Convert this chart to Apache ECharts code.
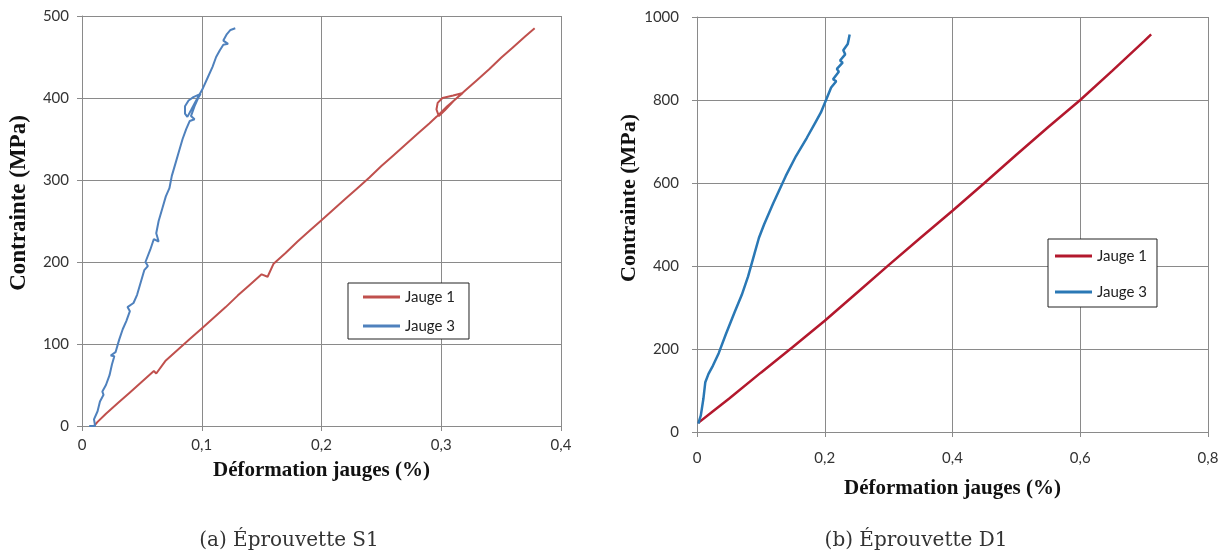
<!DOCTYPE html>
<html>
<head>
<meta charset="utf-8">
<script src="https://cdn.jsdelivr.net/npm/echarts@6/dist/echarts.min.js"></script>
<style>
html,body{margin:0;padding:0;background:#fff;}
#c{width:1230px;height:556px;}
</style>
</head>
<body>
<div id="c"></div>
<script>
// ---------- Data ----------
const seriesNames = ['Jauge 1', 'Jauge 3'];
const xAxisTitle = 'Déformation jauges (%)';
const yAxisTitle = 'Contrainte (MPa)';
const captions = ['(a) Éprouvette S1', '(b) Éprouvette D1'];

// Éprouvette S1
const s1Ticks = { xMax: 0.4, xStep: 0.1, yMax: 500, yStep: 100 };
const s1Jauge1X = [0.010,0.013,0.020,0.030,0.040,0.050,0.060,0.062,0.070,0.080,0.090,0.100,0.110,0.120,0.130,0.140,0.150,0.155,0.160,0.170,0.180,0.190,0.200,0.210,0.220,0.230,0.240,0.250,0.260,0.270,0.280,0.290,0.296,0.305,0.318,0.310,0.301,0.297,0.296,0.298,0.303,0.310,0.320,0.330,0.340,0.350,0.360,0.370,0.378];
const s1Jauge1Y = [0,5,15,28,41,54,67,64,80,93,106,119,132,145,159,172,185,182,198,211,225,238,251,264,277,290,303,317,330,343,356,369,377,390,406,403,400,394,386,378,385,396,409,422,435,449,462,475,485];
const s1Jauge3X = [0.006,0.011,0.010,0.013,0.015,0.018,0.017,0.020,0.023,0.025,0.027,0.024,0.028,0.031,0.034,0.037,0.040,0.038,0.043,0.046,0.049,0.052,0.055,0.053,0.057,0.060,0.064,0.062,0.064,0.067,0.070,0.073,0.075,0.078,0.081,0.084,0.087,0.090,0.094,0.091,0.094,0.097,0.099,0.093,0.089,0.086,0.086,0.088,0.091,0.095,0.098,0.101,0.105,0.109,0.112,0.115,0.118,0.122,0.118,0.121,0.124,0.128];
const s1Jauge3Y = [0,0,8,18,30,38,42,50,62,75,85,86,90,105,118,128,140,145,150,160,175,190,195,200,215,228,225,235,250,265,280,290,305,320,335,350,362,372,374,378,390,400,405,401,397,390,381,377,385,396,404,412,425,438,450,458,465,466,470,478,483,485];

// Éprouvette D1
const d1Ticks = { xMax: 0.8, xStep: 0.2, yMax: 1000, yStep: 200 };
const d1Jauge1X = [0.002,0.025,0.050,0.100,0.150,0.200,0.250,0.300,0.350,0.400,0.450,0.500,0.550,0.600,0.650,0.700,0.711];
const d1Jauge1Y = [22,50,80,143,205,268,335,402,468,533,600,668,735,800,870,942,958];
const d1Jauge3X = [0.002,0.006,0.010,0.013,0.018,0.025,0.034,0.045,0.059,0.070,0.080,0.090,0.097,0.105,0.119,0.139,0.155,0.172,0.185,0.194,0.202,0.210,0.218,0.213,0.222,0.219,0.228,0.224,0.232,0.229,0.236,0.239];
const d1Jauge3Y = [20,40,80,120,140,160,190,235,289,330,375,430,468,500,550,617,665,709,745,770,800,830,845,850,868,875,890,895,910,920,935,958];

const colorsS1 = ['#c0504d', '#4f81bd'];
const colorsD1 = ['#b3182d', '#2a78b5'];

// ---------- Chart ----------
const zip = (xs, ys) => xs.map((x, i) => [x, ys[i]]);
const fmtX = v => (v === 0 ? '0' : String(+v.toFixed(1)).replace('.', ','));
const fmtY = v => String(v);
const tickFont = { fontFamily: 'Lato, "Open Sans", sans-serif', fontSize: 15, color: '#333' };
const serifBold = '"Liberation Serif", "Times New Roman", serif';
const xTitleFont = { fontFamily: serifBold, fontWeight: 'bold', fontSize: 21, color: '#111' };
const gridLine = { lineStyle: { color: '#8a8a8a', width: 1 } };
const axLine = { lineStyle: { color: '#8a8a8a', width: 1 } };

function xAx(idx, t, labelMargin, nameGap) {
  return {
    type: 'value', gridIndex: idx, min: 0, max: t.xMax, interval: t.xStep,
    axisLine: { show: true, onZero: false, ...axLine },
    axisTick: { show: true, length: 5, ...axLine },
    splitLine: { show: true, ...gridLine },
    axisLabel: { ...tickFont, margin: labelMargin, formatter: fmtX },
    name: xAxisTitle, nameLocation: 'middle', nameGap: nameGap, nameTextStyle: xTitleFont
  };
}
function yAx(idx, t, labelMargin) {
  return {
    type: 'value', gridIndex: idx, min: 0, max: t.yMax, interval: t.yStep,
    axisLine: { show: true, ...axLine },
    axisTick: { show: true, length: 5, ...axLine },
    splitLine: { show: true, ...gridLine },
    axisLabel: { ...tickFont, margin: labelMargin, formatter: fmtY }
  };
}
function lineSeries(name, idx, data, color, width) {
  return {
    name: name, type: 'line', xAxisIndex: idx, yAxisIndex: idx, data: data,
    showSymbol: false, symbol: 'none', smooth: false, animation: false,
    lineStyle: { color: color, width: width }, itemStyle: { color: color }
  };
}
function legend(left, top, colors, gap, padding) {
  return {
    orient: 'vertical', left: left, top: top,
    backgroundColor: '#fff', borderColor: '#222', borderWidth: 1,
    padding: padding, itemGap: gap, itemWidth: 37, itemHeight: 3, icon: 'rect',
    textStyle: { fontFamily: 'Lato, "Open Sans", sans-serif', fontSize: 15, color: '#222', lineHeight: 18 },
    data: seriesNames.map((n, i) => ({ name: n, itemStyle: { color: colors[i] } })),
    selectedMode: false
  };
}
function yTitle(x, y, size) {
  return { type: 'text', x: x, y: y, rotation: Math.PI / 2,
    style: { text: yAxisTitle, align: 'center', verticalAlign: 'middle',
      font: 'bold ' + size + 'px ' + serifBold, fill: '#111' } };
}
function caption(cx, text) {
  return { type: 'text', x: cx, y: 541,
    style: { text: text, align: 'center', verticalAlign: 'middle',
      font: '20px "DejaVu Serif", serif', fill: '#333' } };
}

const chart = echarts.init(document.getElementById('c'), null, { renderer: 'canvas' });
chart.setOption({
  backgroundColor: '#fff',
  animation: false,
  grid: [
    { left: 82, top: 16, width: 479, height: 410 },
    { left: 697, top: 17, width: 511, height: 415 }
  ],
  xAxis: [xAx(0, s1Ticks, 12, 34), xAx(1, d1Ticks, 19, 46)],
  yAxis: [yAx(0, s1Ticks, 13), yAx(1, d1Ticks, 18)],
  legend: [
    legend(348, 283, colorsS1, 11, [5, 14, 4, 15]),
    legend(1048, 239, colorsD1, 18, [8, 10, 6, 7])
  ],
  series: [
    lineSeries(seriesNames[0], 0, zip(s1Jauge1X, s1Jauge1Y), colorsS1[0], 2),
    lineSeries(seriesNames[1], 0, zip(s1Jauge3X, s1Jauge3Y), colorsS1[1], 2),
    lineSeries(seriesNames[0], 1, zip(d1Jauge1X, d1Jauge1Y), colorsD1[0], 2.5),
    lineSeries(seriesNames[1], 1, zip(d1Jauge3X, d1Jauge3Y), colorsD1[1], 2.5)
  ],
  graphic: [
    yTitle(19, 203, 23),
    yTitle(629, 198, 22),
    caption(289, captions[0]),
    caption(916, captions[1])
  ]
});
</script>
</body>
</html>
